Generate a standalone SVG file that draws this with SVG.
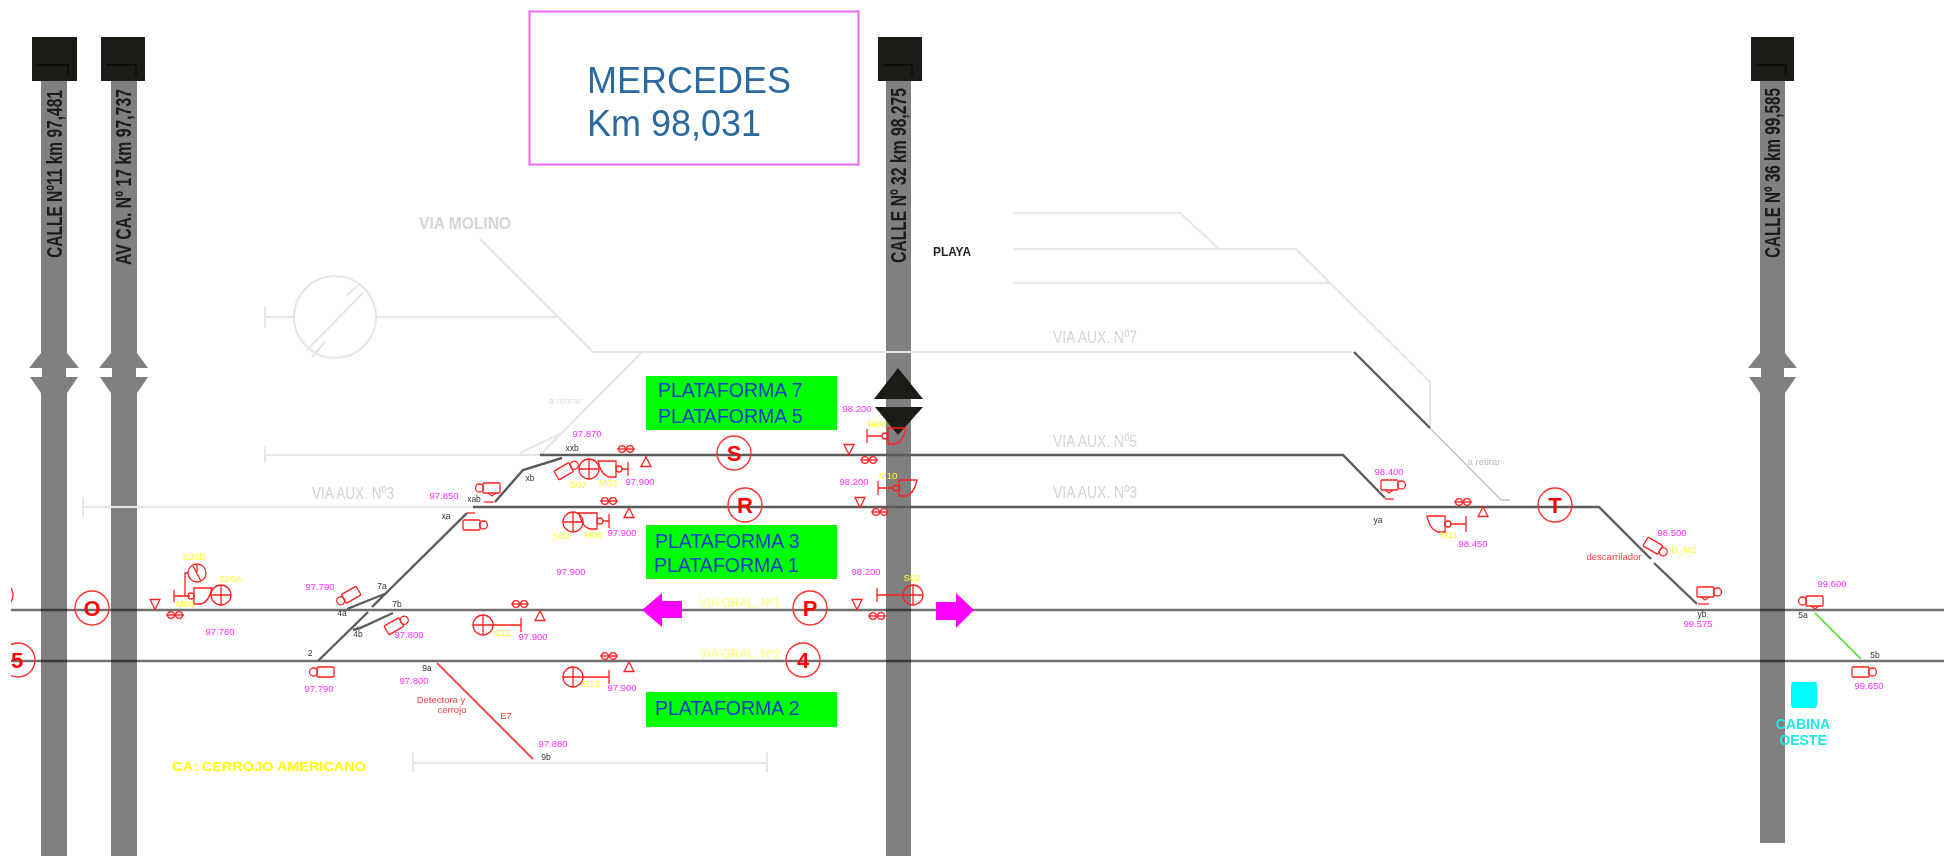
<svg xmlns="http://www.w3.org/2000/svg" xmlns:xlink="http://www.w3.org/1999/xlink" width="1944" height="856" viewBox="0 0 1944 856">
<style>
text{font-family:"Liberation Sans",Arial,sans-serif}
.st{fill:#808080}.bx{fill:#1e1a17}.bl{fill:#1e1a17}
.sl{font-weight:bold;font-size:22px;fill:#1a1a1a}
.lg{fill:none;stroke:#e6e6e6;stroke-width:2}
.lg2{fill:none;stroke:#c4c4c4;stroke-width:1.5}
.rail{fill:none;stroke:#000;stroke-opacity:.56;stroke-width:2.600}
.dk{fill:none;stroke:#5c5c5c;stroke-width:2.400}
.r{fill:none;stroke:#ff2020;stroke-width:1.3}
.cc{fill:none;stroke:#ff3030;stroke-width:1.4}
.cl{font-weight:bold;font-size:22px;fill:#f00;text-anchor:middle}
.m{font-size:9.5px;fill:#ff30ff;text-anchor:middle}
.y{font-size:9.5px;fill:#ffff30;text-anchor:middle}
.k{font-size:8.5px;fill:#333;text-anchor:middle}
.rt{font-size:9.5px;fill:#ff4040;text-anchor:middle}
.v{font-size:17px;fill:#d4d4d4}
.gr{font-size:12px;fill:#ffff70;text-anchor:middle}
.pl{font-size:19.5px;fill:#0a3cc8}
.gb{fill:#00ff00}
.mg{fill:#ff00ff}
</style>
<defs>
<filter id="soft" x="0" y="0" width="100%" height="100%" filterUnits="objectBoundingBox"><feGaussianBlur stdDeviation="0.6"/></filter>
<clipPath id="lc"><rect x="11" y="0" width="1933" height="856"/></clipPath>
<g id="twin" class="r"><circle cx="-4" r="3.4"/><circle cx="4" r="3.4"/><path d="M-9 0H9"/></g>
<path id="tup" class="r" d="M0-5L5 4.500H-5Z"/>
<path id="tdn" class="r" d="M-5-4.500H5L0 5.500Z"/>
<g id="cam" class="r"><rect x="-11" y="-5" width="17" height="10" rx="1"/><circle cx="9.500" r="4"/></g>
<g id="camt" class="r"><use href="#cam"/><path d="M-7 5L-3 8L1 5"/></g>
<g id="cross" class="r"><circle r="10"/><path d="M-10 0H10M0-10V10"/></g>
<g id="head" class="r"><path d="M-9-8H9V8H2Q-6 6-9-8Z"/><circle cx="12" r="3"/></g>
</defs>
<g filter="url(#soft)">
<rect width="1944" height="856" fill="#fff"/>

<g id="calle-11"><rect class="st" x="41" y="70" width="26" height="786"/><path class="st" d="M41 353L29 368H79L67 353ZM30 377L41 393H67L78 377Z"/><rect x="29" y="368" width="13" height="9" fill="#fff"/><rect x="66" y="368" width="14" height="9" fill="#fff"/><rect class="bx" x="32" y="37" width="45" height="44"/><path d="M37 65H68V75" fill="none" stroke="#000"/><text class="sl" transform="translate(62,258) rotate(-90)" textLength="168" lengthAdjust="spacingAndGlyphs">CALLE Nº11 km 97,481</text></g>

<g id="avda-17"><rect class="st" x="111" y="70" width="26" height="786"/><path class="st" d="M111 353L99 368H148L137 353ZM100 377L111 393H137L148 377Z"/><rect x="98" y="368" width="14" height="9" fill="#fff"/><rect x="136" y="368" width="14" height="9" fill="#fff"/><rect class="bx" x="101" y="37" width="44" height="44"/><path d="M106 65H136V75" fill="none" stroke="#000"/><text class="sl" transform="translate(131,265) rotate(-90)" textLength="176" lengthAdjust="spacingAndGlyphs">AV CA. Nº 17 km 97,737</text></g>

<g id="calle-32"><rect class="st" x="886" y="70" width="25" height="786"/><rect class="bx" x="878" y="37" width="44" height="44"/><path d="M883 65H912V75" fill="none" stroke="#000"/><text class="sl" transform="translate(906,263) rotate(-90)" textLength="175" lengthAdjust="spacingAndGlyphs">CALLE Nº 32 km 98,275</text></g>

<g id="calle-36"><rect class="st" x="1760" y="70" width="25" height="773"/><path class="st" d="M1760 353L1748 368H1797L1785 353ZM1749 377L1760 393H1785L1796 377Z"/><rect x="1747" y="368" width="14" height="9" fill="#fff"/><rect x="1784" y="368" width="14" height="9" fill="#fff"/><rect class="bx" x="1751" y="37" width="43" height="44"/><path d="M1756 65H1786V75" fill="none" stroke="#000"/><text class="sl" transform="translate(1780,258) rotate(-90)" textLength="170" lengthAdjust="spacingAndGlyphs">CALLE Nº 36 km 99,585</text></g>

<g id="titulo"><rect x="529.500" y="11.500" width="329" height="153" fill="#fff" stroke="#f266f2" stroke-width="2"/><text x="587" y="93" font-size="36" fill="#2a6a9e">MERCEDES</text><text x="587" y="136" font-size="36" fill="#2a6a9e">Km 98,031</text></g>

<g id="connectors">
<g id="vias-claras">
<path class="lg" d="M83 497V517M83 507H473M265 447V463M265 455H540"/>
<path class="lg" d="M265 307V328M265 317H294M377 317H558M480 239L593 352H1352"/>
<circle class="lg" cx="335" cy="317" r="41"/>
<path class="lg" d="M307 350L363 293M312 357L325 342M347 295L360 284"/>
<path class="lg" d="M642 352L540 455M520 453L560 434"/>
<path class="lg" d="M1013 213H1180L1219 249M1013 249H1296L1430 382V428M1013 283H1330"/>
<path class="lg2" d="M1430 428L1501 500H1510"/>
<path class="lg" d="M413 752V772M413 763H767M767 752V772"/>
</g>
<g id="vias-generales">
<path class="rail" d="M11 610H1944M11 661H1944"/>
<path class="dk" d="M473 507H1599L1651 559M1654 563L1697 604M540 455H1343L1385 498"/>
<path class="dk" d="M1354 352L1430 428" stroke-width="2"/>
<path class="dk" d="M318 661L368 612M372 607L467 513M347 609L387 593M353 630L360 628L393 613M495 502L523 470L562 458"/>
</g>
<path d="M437 663L533 759" fill="none" stroke="#ff5050" stroke-width="2"/>
<path d="M1815 613L1861 659" fill="none" stroke="#70e850" stroke-width="2"/>
</g>

<g id="flechas-calle"><path class="bl" d="M898 368L923 399H874ZM875 407H923L898 435Z"/></g>

<g id="flecha-izq"><path class="mg" d="M642 610L662 593V601H682V618H662V627Z"/></g>
<g id="flecha-der"><path class="mg" d="M974 610L956 593V602H936V620H956V628Z"/></g>

<g id="plataforma-75"><rect class="gb" x="646" y="376" width="191" height="54"/><text class="pl" x="658" y="397">PLATAFORMA 7</text><text class="pl" x="658" y="423">PLATAFORMA 5</text></g>
<g id="plataforma-31"><rect class="gb" x="646" y="525" width="191" height="54"/><text class="pl" x="655" y="548">PLATAFORMA 3</text><text class="pl" x="654" y="572">PLATAFORMA 1</text></g>
<g id="plataforma-2"><rect class="gb" x="646" y="692" width="191" height="35"/><text class="pl" x="655" y="715">PLATAFORMA 2</text></g>

<g id="circulo-O"><circle class="cc" cx="92" cy="608" r="17"/><text class="cl" x="92" y="616">O</text></g>
<g id="circulo-5" clip-path="url(#lc)"><circle class="cc" cx="18" cy="660" r="17"/><text class="cl" x="17" y="668">5</text><circle class="cc" cx="0" cy="595" r="13"/></g>
<g id="circulo-S"><circle class="cc" cx="734" cy="453" r="17"/><text class="cl" x="734" y="461">S</text></g>
<g id="circulo-R"><circle class="cc" cx="745" cy="505" r="17"/><text class="cl" x="745" y="513">R</text></g>
<g id="circulo-P"><circle class="cc" cx="810" cy="608" r="17"/><text class="cl" x="810" y="616">P</text></g>
<g id="circulo-4"><circle class="cc" cx="803" cy="660" r="17"/><text class="cl" x="803" y="668">4</text></g>
<g id="circulo-T"><circle class="cc" cx="1555" cy="505" r="17"/><text class="cl" x="1555" y="513">T</text></g>

<g id="sen-oeste">
<use href="#tdn" x="155" y="604"/><use href="#twin" x="175" y="615"/>
<path class="r" d="M174 590V602M174 596H190M185 596V573H188"/>
<circle class="r" cx="197" cy="573" r="9"/><path class="r" d="M193 566L201 581M197 565V572"/>
<g transform="translate(203,596) scale(-1,1)"><use href="#head"/></g>
<use href="#cross" x="221" y="595"/>
<text class="y" x="194" y="560">S26B</text><text class="y" x="230" y="582">S26A</text><text class="y" x="185" y="607">M06</text>
<text class="m" x="220" y="635">97.780</text>
</g>

<g id="sen-cambios-oeste">
<text class="m" x="320" y="590">97.790</text>
<use href="#cam" transform="translate(349,596) rotate(-30) scale(-1,1)"/>
<text class="k" x="382" y="589">7a</text><text class="k" x="397" y="607">7b</text><text class="k" x="342" y="616">4a</text><text class="k" x="358" y="637">4b</text>
<text class="k" x="310" y="656" font-size="10">2</text>
<use href="#cam" transform="translate(323,672) scale(-1,1)"/>
<text class="m" x="319" y="692">97.790</text>
<use href="#cam" transform="translate(396,625) rotate(-30)"/>
<text class="m" x="409" y="638">97.800</text>
<text class="k" x="427" y="671">9a</text><text class="m" x="414" y="684">97.800</text>
<text class="rt" x="441" y="703">Detectora y</text><text class="rt" x="452" y="713">cerrojo</text>
<text class="rt" x="506" y="719">E7</text>
<text class="m" x="553" y="747">97.880</text><text class="k" x="546" y="760">9b</text>
<path class="r" d="M467 513H475"/>
<use href="#cam" transform="translate(474,525)"/>
<text class="k" x="446" y="519">xa</text>
<text class="k" x="572" y="451">xxb</text><text class="k" x="530" y="481">xb</text><text class="k" x="474" y="502">xab</text>
<text class="m" x="444" y="499">97.850</text><text class="m" x="587" y="437">97.870</text>
<use href="#camt" transform="translate(489,488) scale(-1,1)"/>
<path class="r" d="M484 502H494"/>
</g>

<g id="sen-via-S">
<use href="#twin" x="626" y="449"/><use href="#tup" x="646" y="462"/>
<use href="#cam" transform="translate(566,470) rotate(-30) scale(1,1)"/>
<use href="#cross" x="589" y="469"/>
<use href="#head" x="607" y="469"/><path class="r" d="M622 469H628M628 462V476"/>
<text class="y" x="578" y="488">S07</text><text class="y" x="608" y="486">M03</text><text class="m" x="640" y="485">97.900</text>
</g>
<g id="sen-via-R">
<use href="#twin" x="609" y="501"/><use href="#tup" x="629" y="513"/>
<use href="#cross" x="573" y="522"/>
<use href="#head" x="588" y="521"/><path class="r" d="M603 521H609M609 514V528"/>
<text class="y" x="561" y="539">S09</text><text class="y" x="593" y="538">M05</text><text class="m" x="622" y="536">97.900</text>
<text class="m" x="571" y="575">97.900</text>
</g>
<g id="sen-via-1">
<use href="#twin" x="520" y="604"/><use href="#tup" x="540" y="616"/>
<use href="#cross" x="483" y="625"/><path class="r" d="M493 625H521M521 618V632"/>
<text class="y" x="502" y="636">S11</text><text class="m" x="533" y="640">97.900</text>
</g>
<g id="sen-via-2">
<use href="#twin" x="609" y="656"/><use href="#tup" x="629" y="667"/>
<use href="#cross" x="573" y="677"/><path class="r" d="M583 677H609M609 670V684"/>
<text class="y" x="591" y="687">S13</text><text class="m" x="622" y="691">97.900</text>
</g>

<g id="sen-calle-32">
<text class="m" x="857" y="412">98.200</text><text class="y" x="877" y="427">M08</text>
<path class="r" d="M867 429V443M867 436H882"/>
<g transform="translate(897,436) scale(-1,1)"><use href="#head"/></g>
<use href="#tdn" x="849" y="449"/><use href="#twin" x="869" y="460"/>
<text class="m" x="854" y="485">98.200</text><text class="y" x="888" y="479">M10</text>
<path class="r" d="M878 481V495M878 488H893"/>
<g transform="translate(908,488) scale(-1,1)"><use href="#head"/></g>
<use href="#tdn" x="860" y="502"/><use href="#twin" x="880" y="512"/>
<text class="m" x="866" y="575">98.200</text><text class="y" x="912" y="581">S02</text>
<path class="r" d="M877 588V602M877 595H903"/>
<use href="#cross" x="913" y="595"/>
<use href="#tdn" x="857" y="604"/><use href="#twin" x="877" y="616"/>
</g>

<g id="sen-este">
<text class="m" x="1389" y="475">98.400</text>
<use href="#camt" x="1392" y="485"/><path class="r" d="M1385 499H1394"/>
<text class="k" x="1378" y="523">ya</text>
<use href="#twin" x="1463" y="502"/><use href="#tup" x="1483" y="512"/>
<use href="#head" x="1436" y="524"/><path class="r" d="M1451 524H1466M1466 516V532"/>
<text class="y" x="1449" y="538">M11</text><text class="m" x="1473" y="547">98.450</text>
<text class="m" x="1672" y="536">98.500</text><text class="y" x="1684" y="553">D_M2</text>
<use href="#cam" transform="translate(1655,547) rotate(30)"/>
<text class="rt" x="1614" y="560">descarrilador</text>
<use href="#camt" x="1708" y="592"/><path class="r" d="M1698 604H1709"/>
<text class="k" x="1702" y="617">yb</text><text class="m" x="1698" y="627">99.575</text>
<text class="m" x="1832" y="587">99.600</text>
<use href="#camt" transform="translate(1812,601) scale(-1,1)"/>
<text class="k" x="1803" y="618">5a</text><text class="k" x="1875" y="658">5b</text>
<use href="#cam" x="1863" y="672"/>
<text class="m" x="1869" y="689">99.650</text>
</g>

<g id="textos-via">
<text class="v" x="419" y="229" font-weight="bold" font-size="20" textLength="92" lengthAdjust="spacingAndGlyphs">VIA MOLINO</text>
<text class="v" x="312" y="499" textLength="82" lengthAdjust="spacingAndGlyphs">VIA AUX. Nº3</text>
<text class="v" x="1053" y="343" textLength="84" lengthAdjust="spacingAndGlyphs">VIA AUX. Nº7</text>
<text class="v" x="1053" y="447" textLength="84" lengthAdjust="spacingAndGlyphs">VIA AUX. Nº5</text>
<text class="v" x="1053" y="498" textLength="84" lengthAdjust="spacingAndGlyphs">VIA AUX. Nº3</text>
<text x="565" y="404" font-size="9.500" fill="#dcdcdc" text-anchor="middle">a retirar</text>
<text x="1484" y="465" font-size="9.500" fill="#b8b8b8" text-anchor="middle">a retirar</text>
<text x="933" y="256" font-size="13" font-weight="bold" fill="#222" textLength="38" lengthAdjust="spacingAndGlyphs">PLAYA</text>
<text class="gr" x="740" y="607">VIA GRAL. Nº1</text>
<text class="gr" x="740" y="658">VIA GRAL. Nº2</text>
<text x="172" y="771" font-size="13" font-weight="bold" fill="#ffff00" textLength="194" lengthAdjust="spacingAndGlyphs">CA: CERROJO AMERICANO</text>
</g>

<g id="cabina-oeste"><rect x="1791" y="682" width="26" height="26" rx="3" fill="#00ffff"/><text x="1803" y="729" font-size="14" font-weight="bold" fill="#20e6e6" text-anchor="middle">CABINA</text><text x="1803" y="745" font-size="14" font-weight="bold" fill="#20e6e6" text-anchor="middle">OESTE</text></g>
</g>
</svg>
